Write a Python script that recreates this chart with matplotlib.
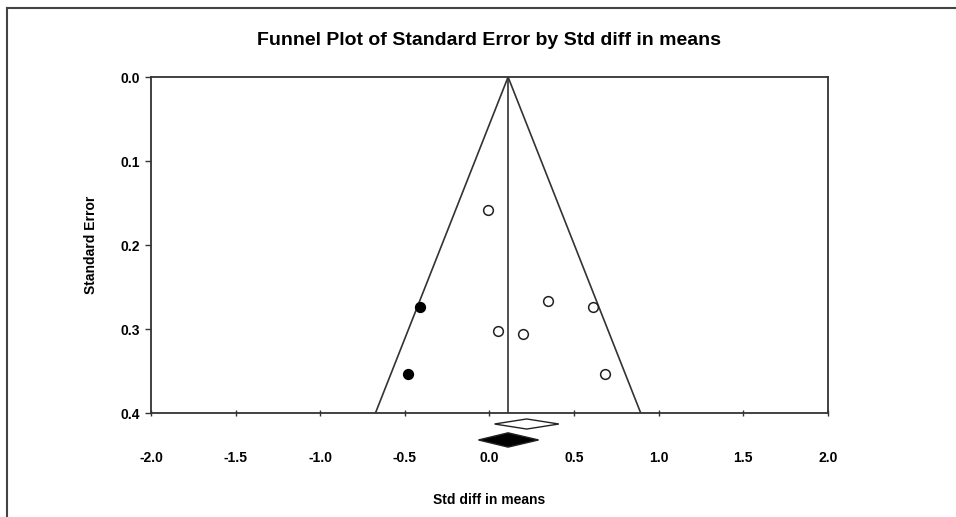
import matplotlib
matplotlib.use("Agg")
import matplotlib.pyplot as plt
from matplotlib.patches import Polygon

plt.rcParams["font.family"] = ["Liberation Sans Narrow", "Liberation Sans", "DejaVu Sans"]
plt.rcParams["font.weight"] = "bold"

# observed studies (open circles)
obs_x = [-0.01, 0.05, 0.20, 0.345, 0.61, 0.68]
obs_se = [0.158, 0.302, 0.306, 0.266, 0.274, 0.353]
# imputed studies (filled circles)
imp_x = [-0.41, -0.48]
imp_se = [0.274, 0.353]

funnel_center = 0.11
se_max = 0.4
z = 1.96

# summary diamonds: (lower, point, upper)
obs_summary = (0.03, 0.22, 0.41)
adj_summary = (-0.065, 0.11, 0.29)

x_ticks = [-2.0, -1.5, -1.0, -0.5, 0.0, 0.5, 1.0, 1.5, 2.0]
y_ticks = [0.0, 0.1, 0.2, 0.3, 0.4]

line_col = "#333333"

fig = plt.figure(figsize=(9.56, 5.17), dpi=100)
ax = fig.add_axes([0.158, 0.201, 0.708, 0.650])

# funnel
ax.plot([funnel_center - z * se_max, funnel_center, funnel_center + z * se_max],
        [se_max, 0.0, se_max], color=line_col, lw=1.2, zorder=2)
ax.plot([funnel_center, funnel_center], [0.0, se_max], color=line_col, lw=1.2, zorder=2)

ax.plot(obs_x, obs_se, "o", ms=7, mfc="white", mec="#222222", mew=1.1, zorder=3)
ax.plot(imp_x, imp_se, "o", ms=7, mfc="black", mec="black", mew=1.1, zorder=3)


def diamond(summary, y, h, face):
    lo, mid, hi = summary
    pts = [(lo, y), (mid, y - h), (hi, y), (mid, y + h)]
    ax.add_patch(Polygon(pts, closed=True, facecolor=face, edgecolor="#222222",
                         lw=1.0, clip_on=False, zorder=3))


diamond(obs_summary, 0.413, 0.006, "white")
diamond(adj_summary, 0.432, 0.0085, "black")

ax.set_xlim(-2.0, 2.0)
ax.set_ylim(0.4, 0.0)
ax.set_xticks(x_ticks)
ax.set_xticklabels([f"{t:.1f}" for t in x_ticks])
ax.set_yticks(y_ticks)
ax.set_yticklabels([f"{t:.1f}" for t in y_ticks])
ax.tick_params(axis="x", direction="inout", length=5, width=1, color=line_col,
               pad=25, labelsize=10)
ax.tick_params(axis="y", direction="out", length=4, width=1, color=line_col,
               pad=4, labelsize=10)
for s in ax.spines.values():
    s.set_color(line_col)
    s.set_linewidth(1.3)

ax.set_title("Funnel Plot of Standard Error by Std diff in means",
             fontsize=14, fontweight="bold", pad=23)
ax.set_xlabel("Std diff in means", fontsize=10, fontweight="bold", labelpad=20)
ax.set_ylabel("Standard Error", fontsize=10, fontweight="bold", labelpad=16)

# outer frame (top and left edges only)
fig.add_artist(plt.Line2D([7 / 956, 7 / 956], [0, 1 - 8 / 517],
                          transform=fig.transFigure, color="#444444", lw=1.5))
fig.add_artist(plt.Line2D([7 / 956, 1], [1 - 8 / 517, 1 - 8 / 517],
                          transform=fig.transFigure, color="#444444", lw=1.5))

fig.savefig("out.png", dpi=100)
